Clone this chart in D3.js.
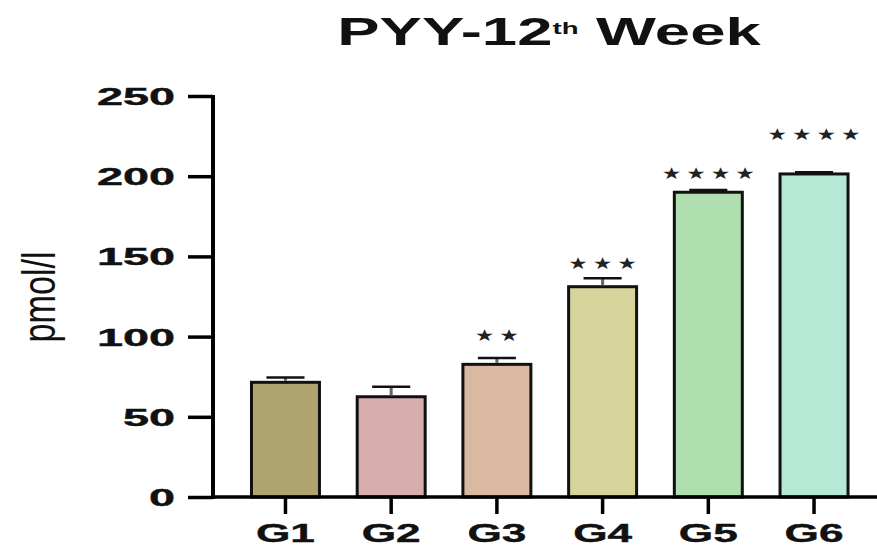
<!DOCTYPE html>
<html>
<head>
<meta charset="utf-8">
<script src="https://cdn.jsdelivr.net/npm/d3@7"></script>
<style>
  html, body { margin: 0; padding: 0; background: #fff; }
  svg { display: block; }
</style>
</head>
<body>
<svg id="chart" width="877" height="547"></svg>
<script>
// ---- data ----
const groups = ["G1", "G2", "G3", "G4", "G5", "G6"];
const means = [71.5, 62.5, 82.7, 131.1, 190.0, 201.4];
const sems = [3.0, 6.3, 4.0, 5.2, 1.4, 1.0];
const significance = ["", "", "**", "***", "****", "****"];
const significanceLevel = [null, null, 101, 146, 202, 226];
const yTicks = [0, 50, 100, 150, 200, 250];
const barColors = ["#b0a470", "#d6aeae", "#dab9a3", "#d6d49a", "#afdfae", "#b5e9d6"];
const titleMain = "PYY-12";
const titleSup = "th";
const titleEnd = " Week";
const yLabel = "pmol/l";

// ---- layout ----
const svg = d3.select("#chart");
const font = "'Liberation Sans', Arial, Helvetica, sans-serif";

const x = d3.scaleBand()
  .domain(groups)
  .range([213, 886.5])
  .paddingInner(0.357)
  .paddingOuter(0.364);

const y = d3.scaleLinear()
  .domain([0, 250])
  .range([497, 96]);

// bars
svg.append("g").selectAll("rect")
  .data(groups)
  .join("rect")
  .attr("x", d => x(d))
  .attr("y", (d, i) => y(means[i]))
  .attr("width", x.bandwidth())
  .attr("height", (d, i) => y(0) - y(means[i]))
  .attr("fill", (d, i) => barColors[i])
  .attr("stroke", "#111")
  .attr("stroke-width", 3);

// error bars
const capW = x.bandwidth() * 0.56;
const eb = svg.append("g");
groups.forEach((g, i) => {
  const cx = x(g) + x.bandwidth() / 2;
  eb.append("line")
    .attr("x1", cx).attr("x2", cx)
    .attr("y1", y(means[i]) - 1.5)
    .attr("y2", y(means[i] + sems[i]))
    .attr("stroke", "#666").attr("stroke-width", 3);
  eb.append("line")
    .attr("x1", cx - capW / 2).attr("x2", cx + capW / 2)
    .attr("y1", y(means[i] + sems[i]))
    .attr("y2", y(means[i] + sems[i]))
    .attr("stroke", "#111").attr("stroke-width", 2.5);
});

// significance stars
const sg = svg.append("g");
groups.forEach((g, i) => {
  const n = significance[i].length;
  if (!n) return;
  const cx = x(g) + x.bandwidth() / 2;
  const spacing = 24.5;
  for (let k = 0; k < n; k++) {
    sg.append("text")
      .attr("transform", `translate(${cx + (k - (n - 1) / 2) * spacing},${y(significanceLevel[i]) + 6}) scale(1.15,0.85)`)
      .attr("text-anchor", "middle")
      .attr("font-family", "'DejaVu Sans', sans-serif")
      .attr("font-size", 19)
      .attr("fill", "#222")
      .text("\u2605");
  }
});

// y axis
const yAxis = svg.append("g")
  .attr("transform", "translate(213,0)")
  .call(d3.axisLeft(y).tickValues(yTicks).tickSize(25).tickSizeOuter(0).tickPadding(0));
yAxis.select(".domain").attr("stroke", "#000").attr("stroke-width", 4)
  .attr("d", `M0,${y(250) - 1}V${y(0) + 2}`);
yAxis.selectAll(".tick line").attr("stroke", "#000").attr("stroke-width", 3.5);
yAxis.selectAll(".tick text")
  .attr("x", null).attr("dy", null)
  .attr("transform", "translate(-38,8.5) scale(1.95,1)")
  .attr("text-anchor", "end")
  .attr("font-family", font)
  .attr("font-weight", "bold")
  .attr("font-size", 24)
  .attr("fill", "#111")
  .attr("stroke", "#111")
  .attr("stroke-width", 0.4);

// x axis
const xAxis = svg.append("g")
  .attr("transform", `translate(0,${y(0)})`)
  .call(d3.axisBottom(x).tickSize(17).tickSizeOuter(0).tickPadding(0));
xAxis.select(".domain").attr("stroke", "#000").attr("stroke-width", 3.5)
  .attr("d", "M211,0H877");
xAxis.selectAll(".tick line").attr("stroke", "#000").attr("stroke-width", 3.5);
xAxis.selectAll(".tick text")
  .attr("y", null).attr("dy", null)
  .attr("transform", "translate(0,45) scale(1.7,1)")
  .attr("text-anchor", "middle")
  .attr("font-family", font)
  .attr("font-weight", "bold")
  .attr("font-size", 26)
  .attr("fill", "#111")
  .attr("stroke", "#111")
  .attr("stroke-width", 0.4);

// y label
svg.append("text")
  .attr("transform", "translate(55,297) rotate(-90) scale(1.14,1.52)")
  .attr("text-anchor", "middle")
  .attr("font-family", font)
  .attr("font-size", 30)
  .attr("fill", "#111")
  .text(yLabel);

// title
const title = svg.append("text")
  .attr("transform", "translate(549,45) scale(1.67,1)")
  .attr("text-anchor", "middle")
  .attr("font-family", font)
  .attr("font-weight", "bold")
  .attr("font-size", 38)
  .attr("fill", "#111");
title.append("tspan").text(titleMain);
title.append("tspan").attr("font-size", 16.5).attr("dy", -11).text(titleSup);
title.append("tspan").attr("dy", 11).text(titleEnd);
</script>
</body>
</html>
